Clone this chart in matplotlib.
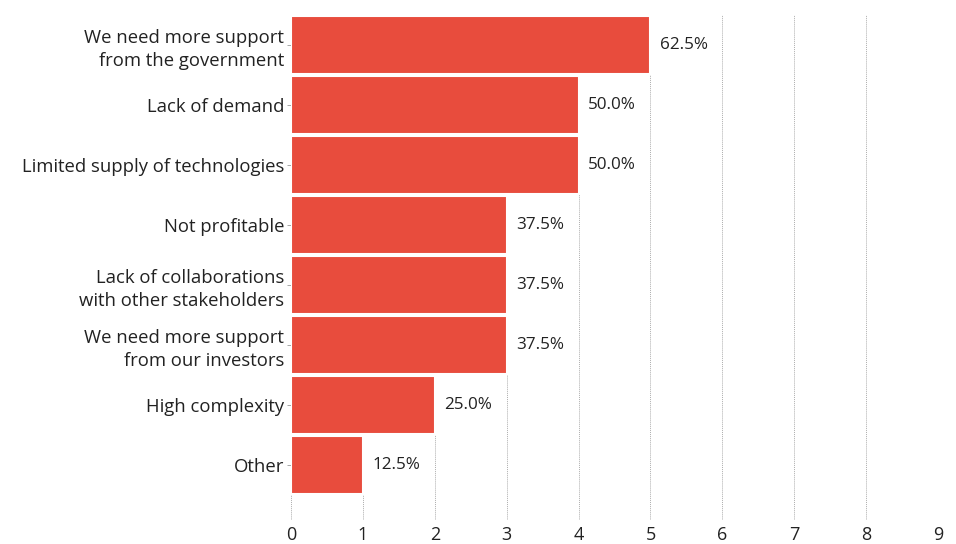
import matplotlib.pyplot as plt

categories = [
    "We need more support\nfrom the government",
    "Lack of demand",
    "Limited supply of technologies",
    "Not profitable",
    "Lack of collaborations\nwith other stakeholders",
    "We need more support\nfrom our investors",
    "High complexity",
    "Other",
]
counts = [5, 4, 4, 3, 3, 3, 2, 1]
shares = ["62.5%", "50.0%", "50.0%", "37.5%", "37.5%", "37.5%", "25.0%", "12.5%"]
xticks = list(range(0, 10))

plt.rcParams["font.family"] = ["Open Sans", "DejaVu Sans"]

fig = plt.figure(figsize=(9.56, 5.44), dpi=100)
ax = fig.add_axes([0.3044, 0.0441, 0.6768, 0.9283])

ypos = list(range(len(categories)))
ax.barh(ypos, counts, height=0.96, color="#E84C3D", edgecolor="white",
        linewidth=1.5, zorder=2)

for y, c, s in zip(ypos, counts, shares):
    ax.text(c + 0.13, y, s, va="center", ha="left", fontsize=12.3, color="#222222")

ax.set_xlim(0, 9)
ax.set_ylim(7.92, -0.5)
ax.set_xticks(xticks)
ax.set_xticklabels([str(t) for t in xticks], fontsize=13, color="#222222")
ax.set_yticks(ypos)
ax.set_yticklabels(categories, fontsize=13.3, color="#222222", linespacing=1.35)
ax.tick_params(axis="x", length=0, pad=4)
ax.tick_params(axis="y", length=3, width=0.6, color="#999999", pad=2)

ax.grid(axis="x", linestyle=(0, (1, 1)), linewidth=0.7, color="#999999",
        alpha=0.8, zorder=3)
for spine in ax.spines.values():
    spine.set_visible(False)

fig.savefig("out.png", dpi=100, facecolor="white")
